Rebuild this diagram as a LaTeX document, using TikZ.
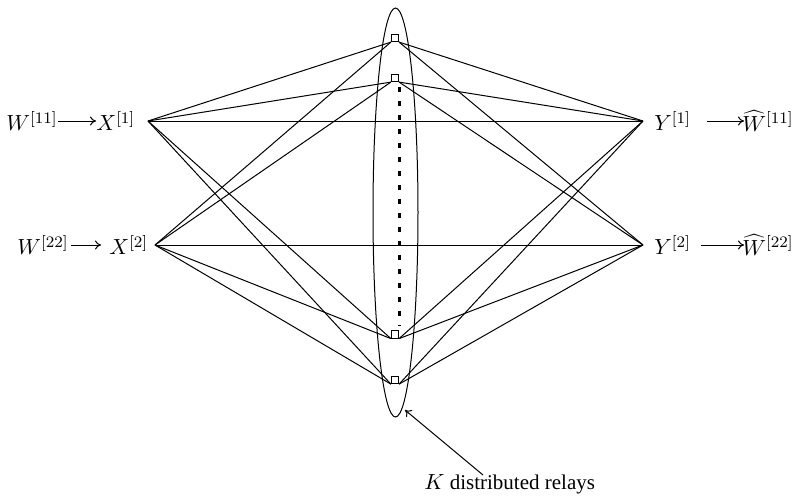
\documentclass[tikz,border=0pt]{standalone}
\usepackage{fontspec}
\setmainfont{Liberation Serif}
\usetikzlibrary{arrows.meta}
\begin{document}
\begin{tikzpicture}[x=0.5pt,y=-0.5pt,
  ln/.style={line width=0.5pt},
  relay/.style={draw,line width=0.5pt,rectangle,minimum size=3.6pt,inner sep=0pt,fill=white},
  lbl/.style={inner sep=0pt,font=\fontsize{11.3}{13}\selectfont},
  hatlbl/.style={inner sep=0pt,font=\fontsize{11}{13}\selectfont},
  caplbl/.style={inner sep=0pt,font=\fontsize{10.5}{12}\selectfont},
  arr/.style={line width=0.5pt,-{To[length=3pt,width=4.5pt]}}]
\useasboundingbox (0,0) rectangle (794,495);
% relay ellipse
\draw[ln] (395.5,212.5) ellipse [x radius=22.5, y radius=204.5];
% points
\coordinate (x1) at (148,121);
\coordinate (x2) at (155,245);
\coordinate (y1) at (643,121);
\coordinate (y2) at (643,245);
% relays
\node[relay] (r1) at (395,38) {};
\node[relay] (r2) at (395,78) {};
\node[relay] (r3) at (395,334.5) {};
\node[relay] (r4) at (395,380) {};
% connections
\foreach \r in {r1,r2,r3,r4}{
  \draw[ln] (x1) -- (\r.south west);
  \draw[ln] (x2) -- (\r.south west);
  \draw[ln] (\r.south east) -- (y1);
  \draw[ln] (\r.south east) -- (y2);
}
\draw[ln] (x1) -- (y1);
\draw[ln] (x2) -- (y2);
% redraw relay boxes on top
\node[relay] at (395,38) {};
\node[relay] at (395,78) {};
\node[relay] at (395,334.5) {};
\node[relay] at (395,380) {};
% dotted
\draw[line width=1.4pt,dash pattern=on 2.2pt off 4.8pt] ([yshift=-2.5pt]r2.south east) -- ([yshift=2pt]r3.north east);
% left labels
\node[lbl,anchor=west] (w11) at (6,121) {$W^{[11]}$};
\node[lbl,anchor=west] (xx1) at (96,121) {$X^{[1]}$};
\draw[arr] (w11.east) -- (xx1.west);
\node[lbl,anchor=west] (w22) at (17,245) {$W^{[22]}$};
\node[lbl,anchor=west] (xx2) at (109,245) {$X^{[2]}$};
\draw[arr] ([xshift=1pt]w22.east) -- ([xshift=-4pt]xx2.west);
% right labels
\node[lbl,anchor=west] (yy1) at (654,121) {$Y^{[1]}$};
\node[hatlbl,anchor=west] (wh11) at (742,121) {$\widehat{W}^{[11]}$};
\draw[arr] ([xshift=8pt]yy1.east) -- ([xshift=1pt]wh11.west);
\node[lbl,anchor=west] (yy2) at (654,245) {$Y^{[2]}$};
\node[hatlbl,anchor=west] (wh22) at (742,245) {$\widehat{W}^{[22]}$};
\draw[arr] ([xshift=5pt]yy2.east) -- ([xshift=1pt]wh22.west);
% caption
\node[caplbl,anchor=west] (cap) at (424,484) {$K$ distributed relays};
\coordinate (tip) at (405,410);
\draw[arr] (483,475) -- (tip);
\end{tikzpicture}
\end{document}
